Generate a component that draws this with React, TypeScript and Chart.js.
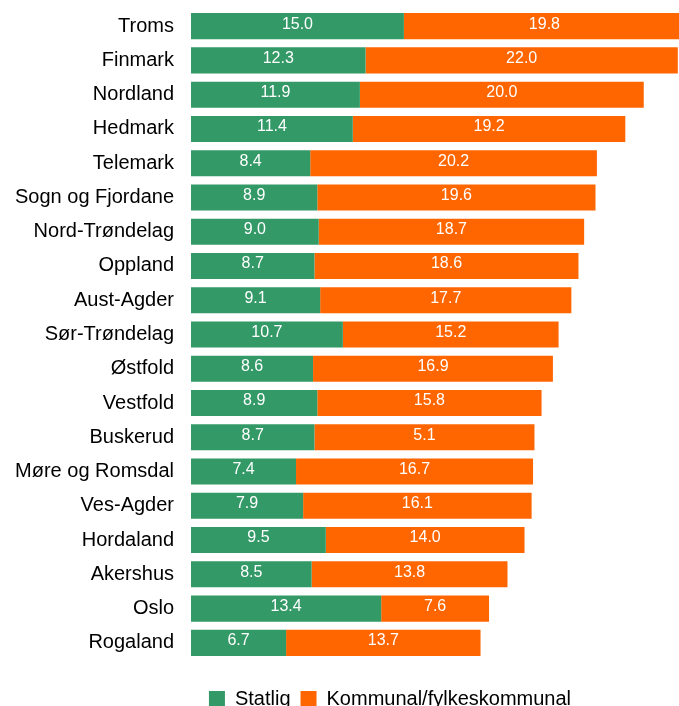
import React, { useEffect, useRef } from "react";
import { Chart, registerables } from "chart.js";

Chart.register(...registerables);

const FONT = '"Liberation Sans", Arial, sans-serif';

const categories = [
  "Troms",
  "Finmark",
  "Nordland",
  "Hedmark",
  "Telemark",
  "Sogn og Fjordane",
  "Nord-Trøndelag",
  "Oppland",
  "Aust-Agder",
  "Sør-Trøndelag",
  "Østfold",
  "Vestfold",
  "Buskerud",
  "Møre og Romsdal",
  "Ves-Agder",
  "Hordaland",
  "Akershus",
  "Oslo",
  "Rogaland",
];

const statlig = [15.0, 12.3, 11.9, 11.4, 8.4, 8.9, 9.0, 8.7, 9.1, 10.7, 8.6, 8.9, 8.7, 7.4, 7.9, 9.5, 8.5, 13.4, 6.7];

const kommunal = [19.8, 22.0, 20.0, 19.2, 20.2, 19.6, 18.7, 18.6, 17.7, 15.2, 16.9, 15.8, 15.5, 16.7, 16.1, 14.0, 13.8, 7.6, 13.7];

const statligLabels = statlig.map((v) => v.toFixed(1));

// label text as printed in the source (Buskerud's label reads "5.1")
const kommunalLabels = ["19.8", "22.0", "20.0", "19.2", "20.2", "19.6", "18.7", "18.6", "17.7", "15.2", "16.9", "15.8", "5.1", "16.7", "16.1", "14.0", "13.8", "7.6", "13.7"];

const seriesNames = ["Statlig", "Kommunal/fylkeskommunal"];

const valueLabels = {
  id: "valueLabels",
  afterDatasetsDraw(chart: any) {
    const ctx = chart.ctx;
    ctx.save();
    ctx.font = `16px ${FONT}`;
    ctx.fillStyle = "#ffffff";
    ctx.textAlign = "center";
    ctx.textBaseline = "middle";
    chart.data.datasets.forEach((_ds: any, di: number) => {
      const meta = chart.getDatasetMeta(di);
      const texts = di === 0 ? statligLabels : kommunalLabels;
      meta.data.forEach((bar: any, i: number) => {
        const { x, base, y } = bar.getProps(["x", "base", "y"], true);
        ctx.fillText(texts[i], (x + base) / 2, y - 2);
      });
    });
    ctx.restore();
  },
};

export default function App() {
  const ref = useRef<HTMLCanvasElement | null>(null);

  useEffect(() => {
    if (!ref.current) return;
    const chart = new Chart(ref.current, {
      type: "bar",
      data: {
        labels: categories,
        datasets: [
          {
            label: seriesNames[0],
            data: statlig,
            backgroundColor: "#339966",
            borderWidth: 0,
            categoryPercentage: 1,
            barPercentage: 0.76,
          },
          {
            label: seriesNames[1],
            data: kommunal,
            backgroundColor: "#ff6600",
            borderWidth: 0,
            categoryPercentage: 1,
            barPercentage: 0.76,
          },
        ],
      },
      options: {
        responsive: false,
        animation: false,
        indexAxis: "y",
        layout: { autoPadding: false, padding: { top: 9, left: 0, right: 0, bottom: 0 } },
        scales: {
          x: {
            stacked: true,
            min: 0,
            max: 41.5,
            display: true,
            position: "bottom",
            grid: { display: false, drawTicks: false },
            border: { display: false },
            ticks: { display: false },
            afterFit: (s: any) => {
              s.height = 19;
              s.paddingLeft = 0;
              s.paddingRight = 0;
            },
          },
          y: {
            stacked: true,
            grid: { display: false, drawTicks: false },
            border: { display: false },
            ticks: {
              color: "#000000",
              font: { family: FONT, size: 20 },
              padding: 17,
            },
            afterFit: (s: any) => {
              s.width = 191;
              s.paddingTop = 0;
              s.paddingBottom = 0;
            },
          },
        },
        plugins: {
          legend: {
            position: "bottom",
            labels: {
              boxWidth: 16,
              boxHeight: 16,
              padding: 10,
              color: "#000000",
              font: { family: FONT, size: 20 },
            },
          },
          tooltip: { enabled: false },
        },
      },
      plugins: [valueLabels],
    } as any);
    return () => chart.destroy();
  }, []);

  return (
    <div
      style={{
        position: "fixed",
        left: 0,
        top: 0,
        width: 679,
        height: 706,
        overflow: "hidden",
        background: "#ffffff",
      }}
    >
      <canvas ref={ref} width={780} height={719} style={{ display: "block" }} />
    </div>
  );
}
